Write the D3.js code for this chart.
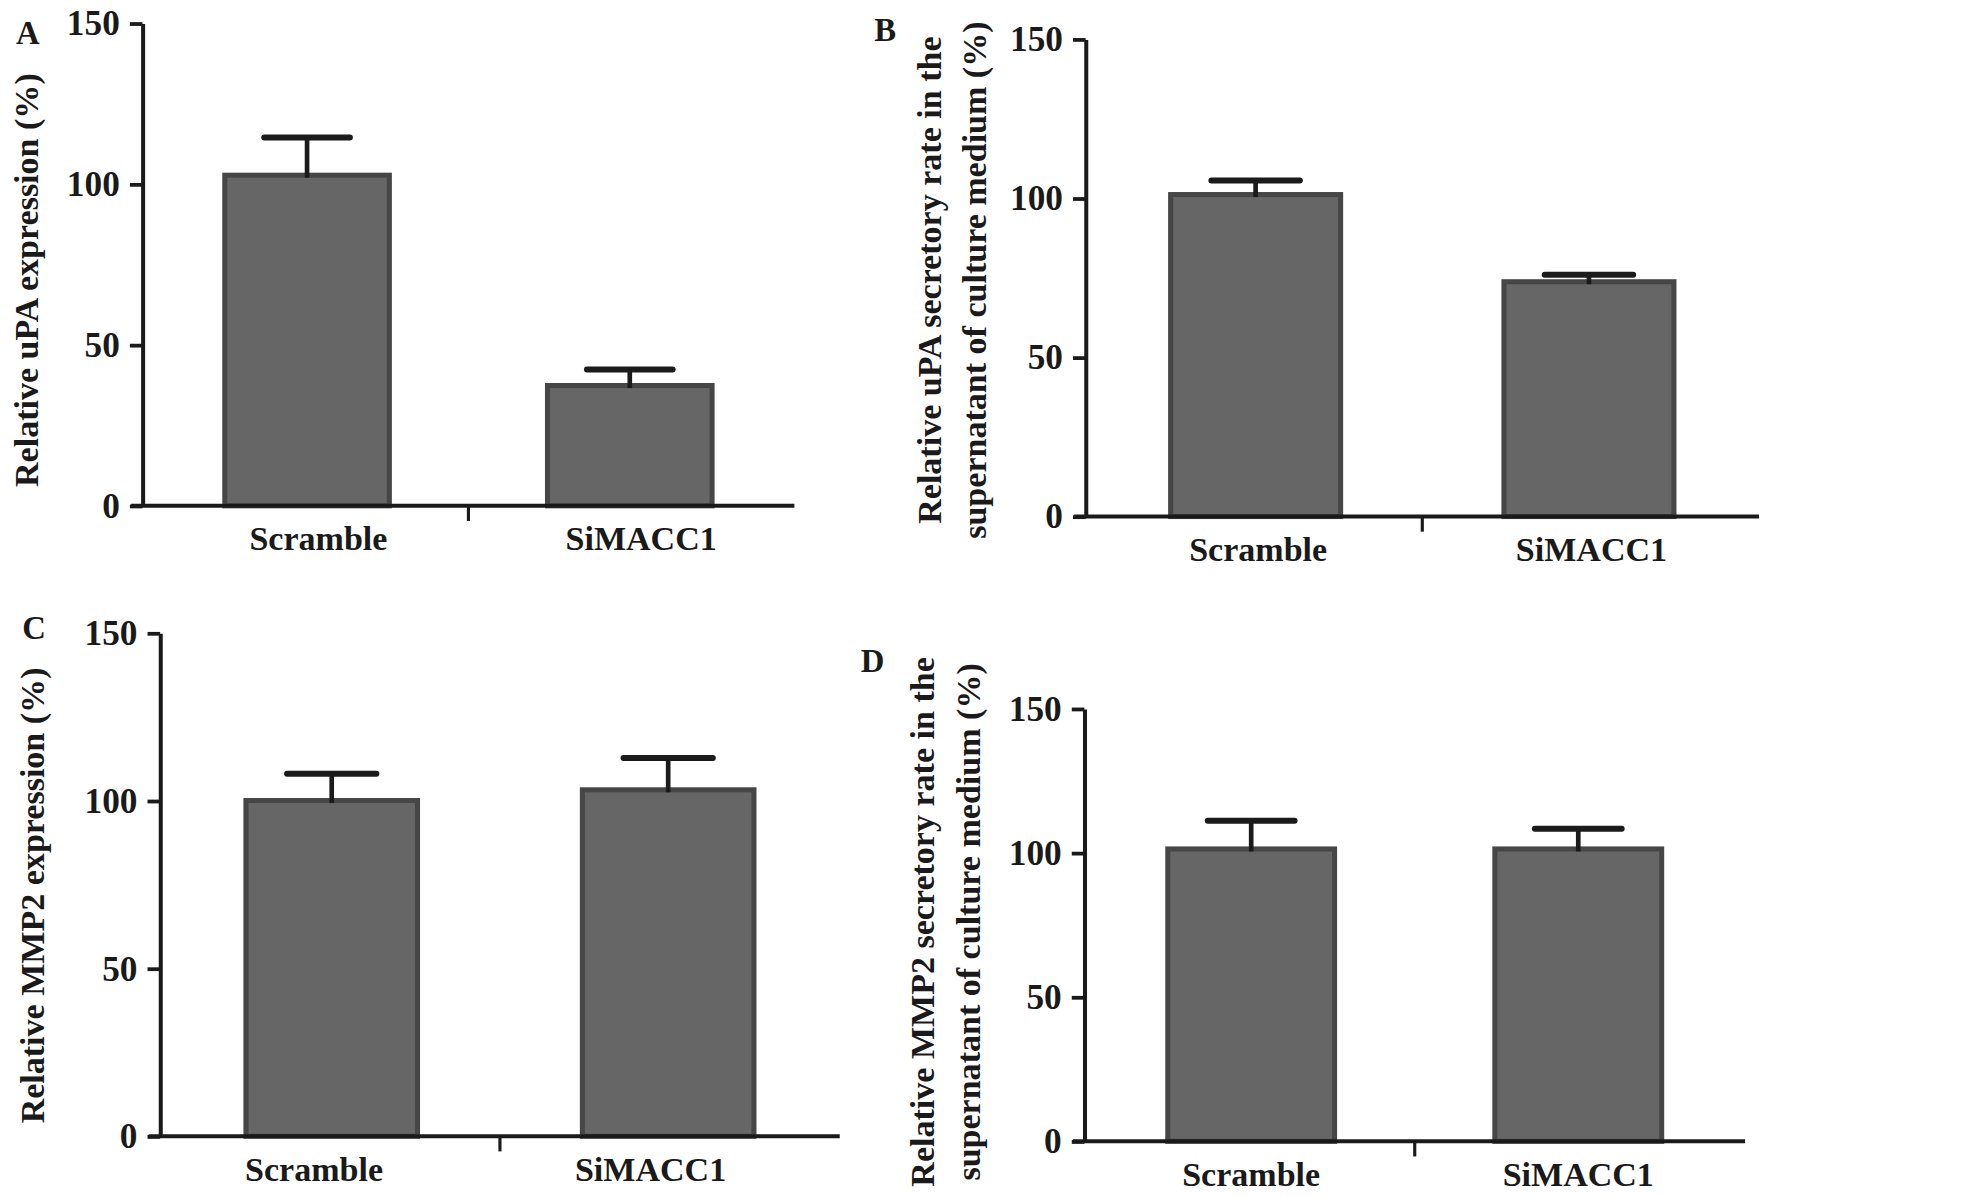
<!DOCTYPE html>
<html>
<head>
<meta charset="utf-8">
<script src="https://cdn.jsdelivr.net/npm/d3@7"></script>
<style>
  html, body { margin: 0; padding: 0; background: #fff; }
  svg text { font-family: 'Liberation Serif', 'Times New Roman', serif; font-weight: bold; fill: #1a1a1a; }
</style>
</head>
<body>
<div id="chart"></div>
<script>
const categories = ['Scramble', 'SiMACC1'];
const yTicks     = [0, 50, 100, 150];

// panel A: relative uPA expression
const uPAExpression    = [102.8, 37.4];
const uPAExpressionSem = [11.7, 5.0];
// panel B: uPA secretory rate
const uPASecretion    = [101.2, 73.8];
const uPASecretionSem = [4.4, 2.2];
// panel C: relative MMP2 expression
const mmp2Expression    = [100.1, 103.3];
const mmp2ExpressionSem = [8.0, 9.5];
// panel D: MMP2 secretory rate
const mmp2Secretion    = [101.4, 101.4];
const mmp2SecretionSem = [9.8, 7.0];

const panelLetters = ['A', 'B', 'C', 'D'];
const yTitles = [
	['Relative uPA expression (%)'],
	['Relative uPA secretory rate in the', 'supernatant of culture medium (%)'],
	['Relative MMP2 expression (%)'],
	['Relative MMP2 secretory rate in the', 'supernatant of culture medium (%)']
];

// layout of each panel, in viewBox units
const panels = [
	{ values : uPAExpression, sem : uPAExpressionSem,
	  x0 : 113, x1 : 630, top : 18.4, bottom : 401, letter : [22, 35], titleX : [30], titleY : 222, labelDx : 9 },
	{ values : uPASecretion, sem : uPASecretionSem,
	  x0 : 861, x1 : 1395, top : 31, bottom : 409.5, letter : [702, 32], titleX : [746, 782], titleY : 222, labelDx : 2 },
	{ values : mmp2Expression, sem : mmp2ExpressionSem,
	  x0 : 127, x1 : 666, top : 502, bottom : 901, letter : [27, 507], titleX : [35], titleY : 710, labelDx : -14 },
	{ values : mmp2Secretion, sem : mmp2SecretionSem,
	  x0 : 860, x1 : 1384, top : 562, bottom : 905, letter : [692, 533], titleX : [741, 777], titleY : 731, labelDx : 0 }
];

const width  = 1967;
const height = 1197;

const svg = d3.select( '#chart' )
              .append( 'svg' )
              .attr( 'width', width )
              .attr( 'height', height )
              .attr( 'viewBox', '0 0 1560 949' );

panels.forEach( ( p, i ) => {

	const g = svg.append( 'g' );

	const x = d3.scaleBand()
	            .domain( categories )
	            .range( [p.x0, p.x1] )
	            .paddingInner( 0.49 )
	            .paddingOuter( 0.255 );

	const y = d3.scaleLinear()
	            .domain( [0, 150] )
	            .range( [p.bottom, p.top] );

	const rows = categories.map( ( c, j ) => ( { cat : c, value : p.values[j], sem : p.sem[j] } ) );

	// bars
	g.selectAll( 'rect.bar' )
	 .data( rows )
	 .enter()
	 .append( 'rect' )
	 .attr( 'class', 'bar' )
	 .attr( 'x', d => x( d.cat ) )
	 .attr( 'y', d => y( d.value ) )
	 .attr( 'width', x.bandwidth() )
	 .attr( 'height', d => y( 0 ) - y( d.value ) )
	 .attr( 'fill', '#666666' )
	 .attr( 'stroke', '#464646' )
	 .attr( 'stroke-width', 4 );

	// error bars (upper half only)
	const capW = x.bandwidth() * 0.52;
	const err = g.selectAll( 'g.err' )
	             .data( rows )
	             .enter()
	             .append( 'g' )
	             .attr( 'class', 'err' );
	err.append( 'line' )
	   .attr( 'x1', d => x( d.cat ) + x.bandwidth() / 2 )
	   .attr( 'x2', d => x( d.cat ) + x.bandwidth() / 2 )
	   .attr( 'y1', d => y( d.value ) + 2 )
	   .attr( 'y2', d => y( d.value + d.sem ) )
	   .attr( 'stroke', '#1b1b1b' )
	   .attr( 'stroke-width', 3.7 );
	err.append( 'line' )
	   .attr( 'x1', d => x( d.cat ) + x.bandwidth() / 2 - capW / 2 )
	   .attr( 'x2', d => x( d.cat ) + x.bandwidth() / 2 + capW / 2 )
	   .attr( 'y1', d => y( d.value + d.sem ) )
	   .attr( 'y2', d => y( d.value + d.sem ) )
	   .attr( 'stroke', '#1b1b1b' )
	   .attr( 'stroke-width', 4.8 )
	   .attr( 'stroke-linecap', 'round' );

	// y axis
	const yAxis = g.append( 'g' )
	               .attr( 'transform', `translate(${p.x0},0)` )
	               .call( d3.axisLeft( y ).tickValues( yTicks ).tickSize( 10 ).tickSizeOuter( 0 ).tickPadding( 8 ) );
	yAxis.attr( 'font-family', null ).attr( 'font-size', null );
	yAxis.select( '.domain' ).attr( 'stroke', '#1a1a1a' ).attr( 'stroke-width', 3.2 );
	yAxis.selectAll( '.tick line' ).attr( 'stroke', '#1a1a1a' ).attr( 'stroke-width', 3 );
	yAxis.selectAll( '.tick text' )
	     .attr( 'font-size', 28 )
	     .attr( 'fill', '#1a1a1a' );

	// x axis
	const xAxis = g.append( 'g' )
	               .attr( 'transform', `translate(0,${y( 0 )})` )
	               .call( d3.axisBottom( x ).tickSize( 0 ).tickSizeOuter( 0 ).tickPadding( 16 ) );
	xAxis.select( '.domain' ).remove();
	xAxis.attr( 'font-family', null ).attr( 'font-size', null );
	xAxis.selectAll( '.tick text' )
	     .attr( 'font-size', 27 )
	     .attr( 'fill', '#1a1a1a' )
	     .attr( 'dx', p.labelDx )
	     .attr( 'dy', '0.71em' );

	g.append( 'line' )
	 .attr( 'x1', x.range()[0] - 9 )
	 .attr( 'x2', x.range()[1] )
	 .attr( 'y1', y( 0 ) )
	 .attr( 'y2', y( 0 ) )
	 .attr( 'stroke', '#1a1a1a' )
	 .attr( 'stroke-width', 3.2 );

	const mid = ( x( categories[0] ) + x.bandwidth() + x( categories[1] ) ) / 2;
	g.append( 'line' )
	 .attr( 'x1', mid )
	 .attr( 'x2', mid )
	 .attr( 'y1', y( 0 ) )
	 .attr( 'y2', y( 0 ) + 12 )
	 .attr( 'stroke', '#1a1a1a' )
	 .attr( 'stroke-width', 2.5 );

	// axis title
	yTitles[i].forEach( ( line, k ) => {
		g.append( 'text' )
		 .attr( 'transform', `translate(${p.titleX[k]},${p.titleY}) rotate(-90)` )
		 .attr( 'text-anchor', 'middle' )
		 .attr( 'font-size', 27 )
		 .text( line );
	} );

	// panel letter
	g.append( 'text' )
	 .attr( 'x', p.letter[0] )
	 .attr( 'y', p.letter[1] )
	 .attr( 'text-anchor', 'middle' )
	 .attr( 'font-size', 26 )
	 .text( panelLetters[i] );
} );
</script>
</body>
</html>
